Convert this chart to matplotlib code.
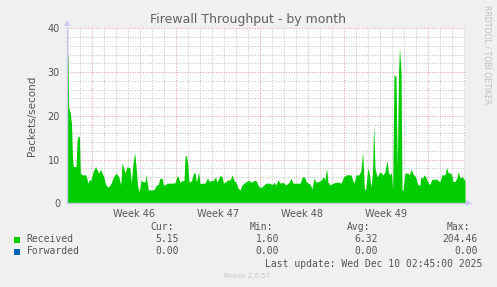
import matplotlib
matplotlib.use("Agg")
import matplotlib.pyplot as plt
import numpy as np

# ---- data (days relative to Monday of Week 46) ----
days = [-2.11, -2.03, -1.97, -1.83, -1.73, -1.65, -1.57, -1.36, -1.28, -1.19, -1.08, -1.00,
        -0.86, -0.53, -0.36, -0.28, -0.11, 0.06, 0.27, 0.53, 0.68, 0.95, 1.08, 1.23, 1.39,
        1.56, 1.78, 1.98, 2.20, 2.37, 2.48, 2.62, 2.73, 2.89, 3.14, 3.25, 3.39, 3.53, 3.64,
        3.78, 3.92, 4.06, 4.23, 4.39, 4.48, 4.67, 4.89, 5.14, 5.35, 5.48, 5.64, 5.81, 5.93,
        6.06, 6.23, 6.64, 6.89, 7.06, 7.14, 7.31, 7.48, 7.64, 7.73, 7.81, 7.93, 8.06, 8.27,
        8.43, 8.56, 8.68, 8.85, 8.98, 9.14, 9.39, 9.60, 9.73, 9.89, 10.06, 10.27, 10.39,
        10.64, 10.81, 10.93, 11.14, 11.31, 11.48, 11.64, 11.81, 11.98, 12.14, 12.31, 12.48,
        12.73, 13.06, 13.23, 13.48, 13.64, 13.85, 14.02, 14.23, 14.48, 14.81, 14.98, 15.14,
        15.31, 15.48, 15.64, 15.89, 16.14, 16.39, 16.56, 16.73, 17.06, 17.31, 17.52, 17.68,
        17.81, 17.98, 18.14, 18.31, 18.48, 18.64, 18.89, 19.06, 19.27, 19.39, 19.52, 19.64,
        19.81, 20.06, 20.31, 20.56, 20.73, 20.93, 21.14, 21.56, 21.70, 21.81, 21.98, 22.23,
        22.39, 22.53, 22.67, 22.78, 22.95, 23.06, 23.23, 23.35, 23.45, 23.56, 23.73, 23.98,
        24.23, 24.39, 24.56, 24.68, 24.81, 24.93, 25.03, 25.14, 25.31, 25.42, 25.52, 25.60,
        25.73, 25.81, 25.89, 26.06, 26.31, 26.43, 26.56, 26.73, 26.93, 27.14, 27.31, 27.39,
        27.52, 27.64, 27.77, 27.89, 28.06, 28.14, 28.31, 28.73, 28.89, 28.98, 29.14, 29.39,
        29.53, 29.67, 29.81, 29.95, 30.06, 30.23, 30.37, 30.50, 30.64, 30.81, 31.06]
received = [34.3, 33.5, 22, 20.5, 18, 10, 8.4, 8.4, 14, 15.4, 15.2, 7,
            6.5, 6.5, 4.6, 5.3, 5.3, 7.2, 8.4, 6.9, 7.8, 6.1, 4.6, 3.8, 3.8,
            4.6, 6.1, 6.9, 6.1, 4.2, 9.2, 8.0, 6.9, 8.4, 8.0, 4.6, 9.2, 11.6, 8.4,
            3.8, 2.7, 5.3, 4.9, 4.9, 6.5, 3.0, 3.1, 3.1, 4.2, 4.2, 5.7, 5.7, 4.2,
            4.2, 4.6, 4.6, 4.7, 6.2, 6.2, 4.8, 5.2, 5.2, 10.8, 11.0, 9.5, 4.8, 5.2,
            6.9, 6.9, 4.8, 7.2, 4.5, 4.6, 4.6, 5.8, 5.0, 5.2, 5.2, 6.0, 4.8,
            6.3, 6.1, 4.6, 5.0, 5.4, 5.3, 6.5, 5.2, 4.8, 3.5, 3.0, 4.2,
            4.8, 5.3, 4.8, 5.2, 5.2, 4.0, 3.5, 4.0, 4.6, 4.6, 4.2, 4.8,
            4.2, 5.4, 4.6, 4.8, 4.2, 4.8, 5.7, 4.6, 4.6, 4.6, 6.1, 6.0,
            5.0, 4.6, 4.4, 3.3, 5.8, 4.8, 5.0, 5.3, 6.1, 5.3, 8.0, 4.8,
            4.2, 4.6, 4.8, 4.8, 4.6, 6.0, 6.5, 6.5, 5.3, 4.6, 6.5, 6.5,
            7.5, 11.8, 3.5, 3.0, 8.0, 7.2, 3.8, 7.0, 17.9, 8.0, 6.0, 7.2,
            6.5, 7.2, 9.8, 7.0, 6.5, 7.0, 3.0, 29.3, 29.0, 8.0, 30.0, 35.5,
            30.0, 3.0, 3.0, 6.9, 6.9, 6.5, 7.8, 6.7, 6.1, 4.2, 4.2, 6.1,
            5.7, 6.5, 6.1, 5.3, 4.4, 4.4, 5.5, 5.5, 5.0, 5.0, 6.5, 6.5,
            8.2, 6.9, 7.0, 6.5, 5.0, 5.0, 5.7, 7.2, 5.8, 6.1, 5.2]
forwarded = [0.0] * len(days)

week_starts = [0, 7, 14, 21, 28]
week_labels = ["Week 46", "Week 47", "Week 48", "Week 49"]
y_ticks = [0, 10, 20, 30, 40]

legend_names = ["Received", "Forwarded"]
legend_colors = ["#00CC00", "#0066B3"]
cur_vals = ["5.15", "0.00"]
min_vals = ["1.60", "0.00"]
avg_vals = ["6.32", "0.00"]
max_vals = ["204.46", "0.00"]

W, H = 497, 287
fig = plt.figure(figsize=(W / 100, H / 100), dpi=100, facecolor="#F0F0F0")

def fx(px):
    return px / W

def fy(py):
    return 1 - py / H

left_px, right_px, top_px, bot_px = 67, 465, 28.3, 203.3
ax = fig.add_axes([fx(left_px), fy(bot_px), (right_px - left_px) / W, (bot_px - top_px) / H])
ax.set_facecolor("white")
xmin, xmax = -2.11, 31.06
ax.set_xlim(xmin, xmax)
ax.set_ylim(0, 40)

# grid
minor_kw = dict(color="#C4C4C4", linewidth=0.75, linestyle=(0, (1, 1.5)), zorder=1)
major_kw = dict(color="#EAA0A0", linewidth=0.75, linestyle=(0, (1, 1.5)), zorder=1)
for d in range(-2, 32):
    if d not in week_starts:
        ax.axvline(d, **minor_kw)
for yv in range(2, 40, 2):
    if yv % 10 != 0:
        ax.axhline(yv, **minor_kw)
for d in week_starts:
    ax.axvline(d, **major_kw)
for yv in y_ticks[1:]:
    ax.axhline(yv, **major_kw)

ax.fill_between(days, received, 0, color=legend_colors[0], linewidth=0, zorder=2)
ax.fill_between(days, forwarded, 0, color=legend_colors[1], linewidth=0, zorder=2)

for s in ["top", "right"]:
    ax.spines[s].set_visible(False)
for s in ["left", "bottom"]:
    ax.spines[s].set_color("#C8C8F0")
    ax.spines[s].set_linewidth(1)

ax.set_yticks(y_ticks)
ax.set_yticklabels([str(v) for v in y_ticks])
ax.set_xticks([w + 3.5 for w in week_starts[:4]])
ax.set_xticklabels(week_labels)
ax.tick_params(axis="both", length=0, labelsize=7, labelcolor="#555555")
ax.tick_params(axis="y", pad=5)
ax.tick_params(axis="x", pad=4)

# arrows
ax.plot([xmin], [41.2], marker="^", markersize=5, color="#C8C8F0", clip_on=False,
        markeredgewidth=0, zorder=3)
ax.plot([xmax + 0.35], [0], marker=">", markersize=5, color="#C8C8F0", clip_on=False,
        markeredgewidth=0, zorder=3)

ax.set_ylabel("Packets/second", fontsize=7.5, color="#555555", labelpad=8)

fig.text(fx(248.5), fy(19), "Firewall Throughput - by month", ha="center", va="center",
         fontsize=9, color="#606060")
fig.text(fx(487), fy(5), "RRDTOOL / TOBI OETIKER", rotation=270, ha="center", va="top",
         fontsize=5.6, color="#C0C0C0")

mono = "DejaVu Sans Mono"
tc = "#555555"
fig.text(fx(173.5), fy(227.3), "Cur:", ha="right", va="center", fontsize=7, family=mono, color=tc)
fig.text(fx(273), fy(227.3), "Min:", ha="right", va="center", fontsize=7, family=mono, color=tc)
fig.text(fx(370.5), fy(227.3), "Avg:", ha="right", va="center", fontsize=7, family=mono, color=tc)
fig.text(fx(470.5), fy(227.3), "Max:", ha="right", va="center", fontsize=7, family=mono, color=tc)
row_y = [239.5, 251.5]
for i in range(2):
    y = row_y[i]
    fig.patches.append(plt.Rectangle((fx(14), fy(y + 3)), 6 / W, 6 / H, transform=fig.transFigure,
                                     facecolor=legend_colors[i], edgecolor="none"))
    fig.text(fx(26.5), fy(y), legend_names[i], ha="left", va="center", fontsize=7, family=mono, color=tc)
    fig.text(fx(179), fy(y), cur_vals[i], ha="right", va="center", fontsize=7, family=mono, color=tc)
    fig.text(fx(279), fy(y), min_vals[i], ha="right", va="center", fontsize=7, family=mono, color=tc)
    fig.text(fx(378), fy(y), avg_vals[i], ha="right", va="center", fontsize=7, family=mono, color=tc)
    fig.text(fx(477.5), fy(y), max_vals[i], ha="right", va="center", fontsize=7, family=mono, color=tc)

fig.text(fx(482.5), fy(264), "Last update: Wed Dec 10 02:45:00 2025", ha="right", va="center",
         fontsize=7, family=mono, color=tc)
fig.text(fx(246.5), fy(276.5), "Munin 2.0.57", ha="center", va="center", fontsize=5, color="#C8C8C8")

fig.savefig("out.png", dpi=100, facecolor=fig.get_facecolor())
